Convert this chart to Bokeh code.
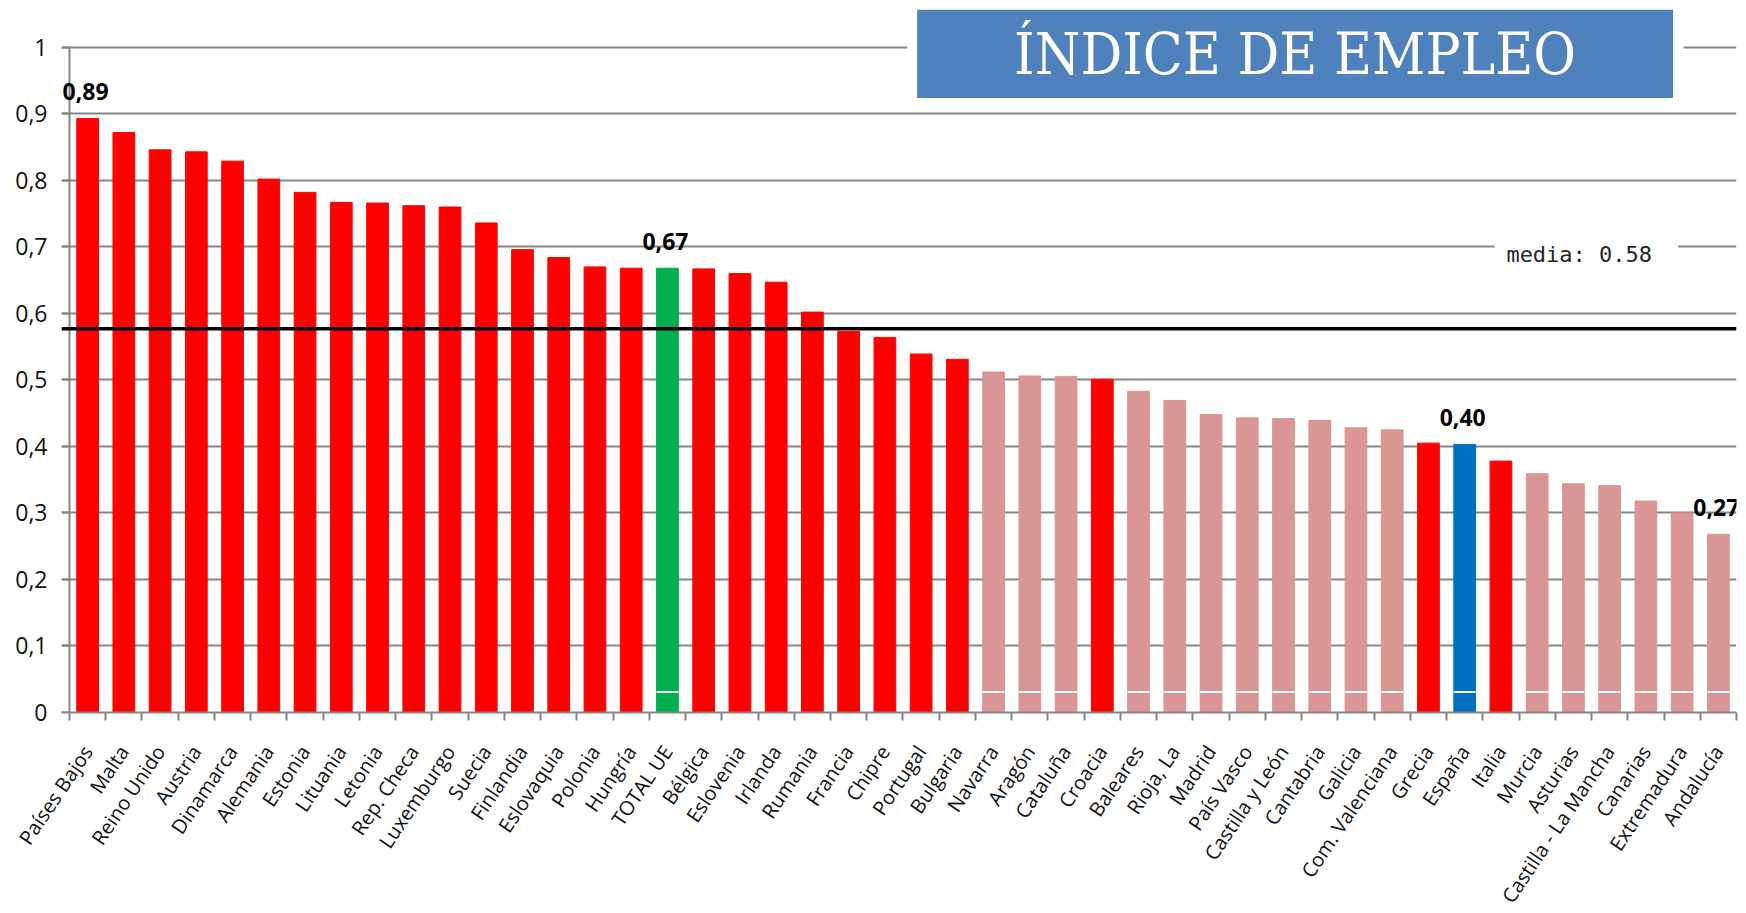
import math
from bokeh.plotting import figure
from bokeh.models import (Range1d, FixedTicker, ColumnDataSource, BoxAnnotation,
                          Label, Span, CustomJSTickFormatter, LinearAxis)
from bokeh.embed import file_html
from bokeh.resources import INLINE

# ---------------- data ----------------
CATEGORIES = [
    "Países Bajos", "Malta", "Reino Unido", "Austria", "Dinamarca", "Alemania",
    "Estonia", "Lituania", "Letonia", "Rep. Checa", "Luxemburgo", "Suecia",
    "Finlandia", "Eslovaquia", "Polonia", "Hungría", "TOTAL UE", "Bélgica",
    "Eslovenia", "Irlanda", "Rumania", "Francia", "Chipre", "Portugal",
    "Bulgaria", "Navarra", "Aragón", "Cataluña", "Croacia", "Baleares",
    "Rioja, La", "Madrid", "País Vasco", "Castilla y León", "Cantabria",
    "Galicia", "Com. Valenciana", "Grecia", "España", "Italia", "Murcia",
    "Asturias", "Castilla - La Mancha", "Canarias", "Extremadura", "Andalucía",
]
VALUES = [
    0.893, 0.872, 0.846, 0.843, 0.829, 0.802,
    0.782, 0.767, 0.766, 0.762, 0.760, 0.736,
    0.696, 0.684, 0.670, 0.668, 0.668, 0.667,
    0.660, 0.647, 0.602, 0.573, 0.564, 0.539,
    0.531, 0.512, 0.506, 0.505, 0.501, 0.483,
    0.469, 0.448, 0.443, 0.442, 0.439,
    0.428, 0.425, 0.405, 0.403, 0.378, 0.359,
    0.344, 0.341, 0.318, 0.300, 0.268,
]
# group of each bar: país UE, total UE, España, comunidad autónoma
GROUPS = (["pais"] * 16 + ["ue"] + ["pais"] * 8 + ["ccaa"] * 3 + ["pais"] +
          ["ccaa"] * 8 + ["pais", "espana", "pais"] + ["ccaa"] * 6)
LABELED = ["Países Bajos", "TOTAL UE", "España", "Andalucía"]
MEDIA = 0.577
MEDIA_TEXT = "media: 0.58"
SPLIT = 0.031  # base segment of the stacked (non-country) bars
Y_TICKS = [0, 0.1, 0.2, 0.3, 0.4, 0.5, 0.6, 0.7, 0.8, 0.9, 1.0]
TITLE = "ÍNDICE DE EMPLEO"

COLORS = {"pais": "#FF0000", "ue": "#00B050", "espana": "#0070C0", "ccaa": "#D99694"}

x = [i + 0.5 for i in range(len(CATEGORIES))]
src = ColumnDataSource(dict(
    x=x, top=VALUES, cat=CATEGORIES,
    color=[COLORS[g] for g in GROUPS],
))

split_idx = [i for i, g in enumerate(GROUPS) if g != "pais"]
split_src = ColumnDataSource(dict(
    x0=[x[i] - 0.3 for i in split_idx],
    x1=[x[i] + 0.3 for i in split_idx],
    y=[SPLIT] * len(split_idx),
))

GRAY = "#868686"
N = len(CATEGORIES)

# frame reaches 8px left of the value axis (gridlines act as its tick marks)
p = figure(frame_width=1675, frame_height=705,
           x_range=Range1d(-8 / 36.24, N), y_range=Range1d(0, 1.06),
           output_backend="svg", toolbar_location=None,
           min_border_left=61, min_border_right=2, min_border_top=7,
           min_border_bottom=5, background_fill_color="white",
           border_fill_color="white", outline_line_color=None)

p.vbar(x="x", top="top", width=0.6, bottom=0, color="color", source=src)
p.segment(x0="x0", x1="x1", y0="y", y1="y", line_color="white", line_width=2,
          source=split_src)

# gridlines
p.xgrid.visible = False
p.ygrid.ticker = FixedTicker(ticks=Y_TICKS)
p.ygrid.grid_line_color = GRAY
p.ygrid.grid_line_width = 2

yfmt = CustomJSTickFormatter(
    code="return tick.toFixed(1).replace('.0', '').replace('.', ',');")

# y axis, labels only (at the frame edge)
ya = p.yaxis[0]
ya.ticker = FixedTicker(ticks=Y_TICKS)
ya.formatter = yfmt
ya.axis_line_color = None
ya.major_tick_line_color = None
ya.minor_tick_line_color = None
ya.major_tick_out = 0
ya.major_tick_in = 0
ya.minor_tick_out = 0
ya.major_label_standoff = 14
ya.major_label_text_font = "Open Sans"
ya.major_label_text_font_size = "23px"
ya.major_label_text_color = "#111111"

# y axis line and ticks at x = 0 (no labels of its own)
yline = LinearAxis(fixed_location=0, ticker=FixedTicker(ticks=Y_TICKS),
                   formatter=CustomJSTickFormatter(code="return '';"),
                   bounds=(0, 1), axis_line_color=GRAY, axis_line_width=2,
                   major_tick_line_color=GRAY, major_tick_line_width=2,
                   major_tick_out=8, major_tick_in=0, minor_tick_line_color=None,
                   major_label_text_color=None, major_label_standoff=0)
p.add_layout(yline, "left")

# x axis
xa = p.xaxis[0]
xa.ticker = FixedTicker(ticks=x, minor_ticks=list(range(N + 1)))
xa.formatter = CustomJSTickFormatter(args=dict(names=CATEGORIES),
                                     code="return names[Math.floor(tick)];")
xa.axis_line_color = GRAY
xa.axis_line_width = 2
xa.major_tick_line_color = None
xa.major_tick_out = 0
xa.major_tick_in = 0
xa.minor_tick_line_color = GRAY
xa.minor_tick_line_width = 2
xa.minor_tick_out = 8
xa.minor_tick_in = 0
xa.major_label_orientation = math.radians(56)
xa.major_label_standoff = 27
xa.major_label_text_font = "Open Sans"
xa.major_label_text_font_size = "20px"
xa.major_label_text_color = "#111111"

# mean line
p.add_layout(Span(location=MEDIA, dimension="width", line_color="black",
                  line_width=3.5))

# data labels
for c in LABELED:
    i = CATEGORIES.index(c)
    p.add_layout(Label(x=x[i], y=VALUES[i], text=f"{VALUES[i]:.2f}".replace(".", ","),
                       text_align="center", text_baseline="middle",
                       x_offset=-2, y_offset=27, text_font="Open Sans",
                       text_font_style="bold", text_font_size="23px",
                       text_color="black"))

# mean label with white backdrop
p.add_layout(BoxAnnotation(left=39.32, right=44.39, bottom=0.68, top=0.715,
                           fill_color="white", fill_alpha=1, line_color=None))
p.add_layout(Label(x=39.65, y=0.689, text=MEDIA_TEXT, text_align="left",
                   text_baseline="middle", text_font="DejaVu Sans Mono",
                   text_font_size="22px", text_color="#262626"))

# title box
p.add_layout(BoxAnnotation(left=23.12, right=44.54, bottom=0.92, top=1.06,
                           fill_color="white", fill_alpha=1, line_color=None))
p.add_layout(BoxAnnotation(left=23.39, right=44.25, bottom=0.924, top=1.0566,
                           fill_color="#4F81BD", fill_alpha=1, line_color=None))
p.add_layout(Label(x=33.82, y=0.99, text=TITLE, text_align="center",
                   text_baseline="middle", text_font="DejaVu Serif Condensed",
                   text_font_size="58px", text_color="white"))

open("out.html", "w").write(file_html(p, INLINE))
